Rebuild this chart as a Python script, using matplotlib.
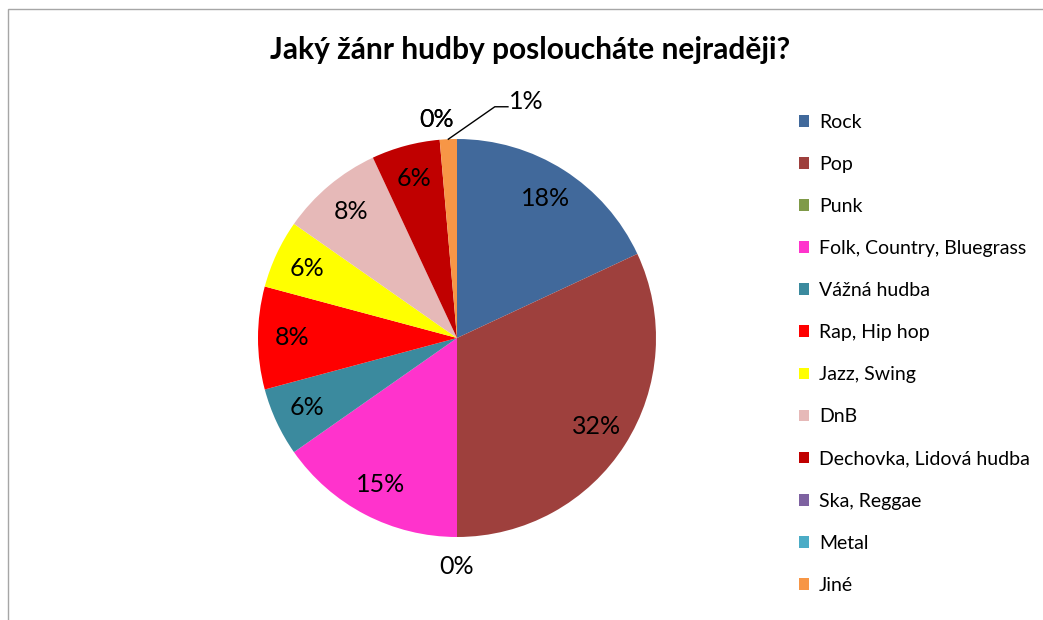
import numpy as np
import matplotlib.pyplot as plt
from matplotlib.patches import Rectangle

plt.rcParams['font.family'] = ['Lato', 'DejaVu Sans']

genres = ['Rock', 'Pop', 'Punk', 'Folk, Country, Bluegrass', 'Vážná hudba',
          'Rap, Hip hop', 'Jazz, Swing', 'DnB', 'Dechovka, Lidová hudba',
          'Ska, Reggae', 'Metal', 'Jiné']
counts = [13, 23, 0, 11, 4, 6, 4, 6, 4, 0, 0, 1]
colors = ['#41699B', '#9E403D', '#7F9A48', '#FF33CC', '#3B8A9E', '#FF0000',
          '#FFFF00', '#E6B9B8', '#C00000', '#7E62A1', '#4BACC6', '#F79646']

fig = plt.figure(figsize=(10.43, 6.2), dpi=100)

# chart frame
fig.patches.append(Rectangle((8/1043, -0.1), 1.2, 1 - 9/620 + 0.1,
                             transform=fig.transFigure, fill=False,
                             edgecolor='#A6A6A6', linewidth=1))

fig.text(530/1043, 1 - 50/620, 'Jaký žánr hudby posloucháte nejraději?',
         ha='center', va='center', fontsize=21.5, fontweight='bold')

ax = fig.add_axes([(457 - 199)/1043, (620 - 537)/620, 398/1043, 398/620])
total = sum(counts)
wedges, texts, autotexts = ax.pie(counts, colors=colors, startangle=90,
                                  counterclock=False, radius=1,
                                  autopct=lambda p: '%d%%' % round(p),
                                  pctdistance=0.83,
                                  wedgeprops=dict(linewidth=0),
                                  textprops=dict(fontsize=18))
ax.set_xlim(-1, 1)
ax.set_ylim(-1, 1)
ax.set_aspect('auto')
ax.axis('off')

# small slices: labels outside
for w, t, c in zip(wedges, autotexts, counts):
    ang = np.deg2rad((w.theta1 + w.theta2) / 2)
    x, y = np.cos(ang), np.sin(ang)
    if c == 0:
        if y < 0:
            t.set_position((x * 1.15, y * 1.15))
        else:
            t.set_position((-0.105, 1.10))
    elif c / total < 0.02:
        t.set_position((0.262, 1.19))
        t.set_ha('left')
        ax.plot([x, 0.19, 0.256], [y, 1.162, 1.162],
                color='black', linewidth=1, clip_on=False)

fig.legend(wedges, genres, loc='upper left',
           bbox_to_anchor=(791/1043, 1 - 106/620), frameon=False,
           fontsize=14, handlelength=0.55, handleheight=0.55,
           handletextpad=0.5, labelspacing=1.29, borderaxespad=0)

fig.savefig('out.png', dpi=100)
